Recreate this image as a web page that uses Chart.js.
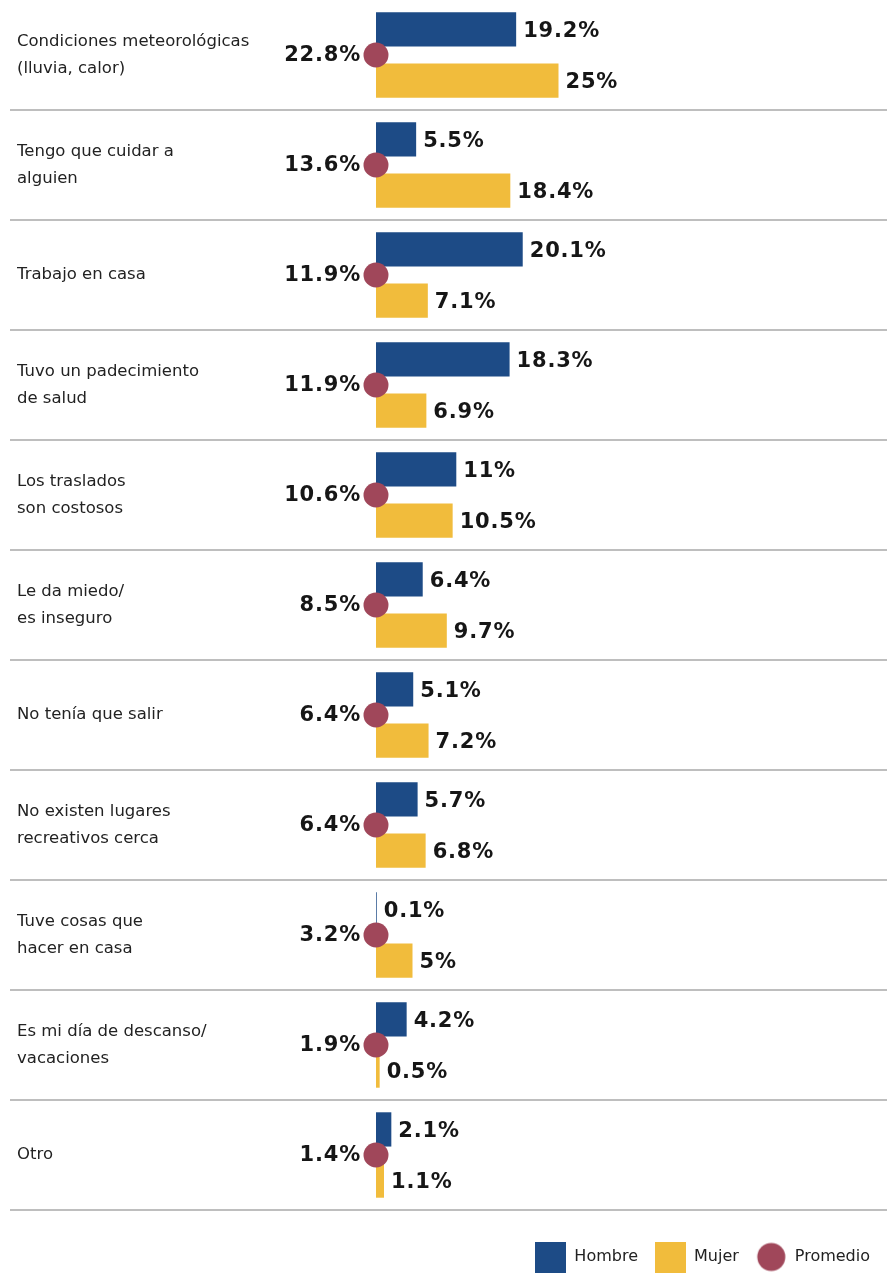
<!DOCTYPE html>
<html lang="es">
<head>
<meta charset="utf-8">
<title>Motivos para no salir</title>
<script src="https://cdn.jsdelivr.net/npm/chart.js@4.4.1/dist/chart.umd.min.js"></script>
<style>
  html, body { margin: 0; padding: 0; background: #fff; }
  #wrap { width: 887px; height: 1275px; }
</style>
</head>
<body>
<div id="wrap"><canvas id="motivosChart"></canvas></div>
<script>
const categorias = [
  ["Condiciones meteorológicas", "(lluvia, calor)"],
  ["Tengo que cuidar a", "alguien"],
  "Trabajo en casa",
  ["Tuvo un padecimiento", "de salud"],
  ["Los traslados", "son costosos"],
  ["Le da miedo/", "es inseguro"],
  "No tenía que salir",
  ["No existen lugares", "recreativos cerca"],
  ["Tuve cosas que", "hacer en casa"],
  ["Es mi día de descanso/", "vacaciones"],
  "Otro"
];
const hombre = [19.2, 5.5, 20.1, 18.3, 11, 6.4, 5.1, 5.7, 0.1, 4.2, 2.1];
const mujer = [25, 18.4, 7.1, 6.9, 10.5, 9.7, 7.2, 6.8, 5, 0.5, 1.1];
const promedio = [22.8, 13.6, 11.9, 11.9, 10.6, 8.5, 6.4, 6.4, 3.2, 1.9, 1.4];

const AZUL = "#1d4b86";
const AMARILLO = "#f1bc3c";
const GUINDA = "#a0475a";

// iconos de la leyenda (cuadros y círculo)
function icono(color, circulo) {
  const c = document.createElement("canvas");
  c.width = 31;
  c.height = 31;
  const g = c.getContext("2d");
  g.fillStyle = color;
  if (circulo) {
    g.beginPath();
    g.arc(15.5, 15.5, 14, 0, Math.PI * 2);
    g.fill();
  } else {
    g.fillRect(0, 0, 31, 31);
  }
  return c;
}
const iconos = [icono(AZUL), icono(AMARILLO), icono(GUINDA, true)];

// líneas separadoras entre categorías
const separadores = {
  id: "separadores",
  beforeDatasetsDraw(chart) {
    const { ctx, chartArea } = chart;
    const y = chart.scales.y;
    const n = chart.data.labels.length;
    ctx.save();
    ctx.strokeStyle = "#a9a9a9";
    ctx.lineWidth = 1.5;
    for (let i = 1; i <= n; i++) {
      const py = i < n
        ? (y.getPixelForTick(i - 1) + y.getPixelForTick(i)) / 2
        : chartArea.bottom;
      ctx.beginPath();
      ctx.moveTo(10, py);
      ctx.lineTo(chart.width, py);
      ctx.stroke();
    }
    ctx.restore();
  }
};

// etiquetas con el porcentaje
const etiquetas = {
  id: "etiquetas",
  afterDatasetsDraw(chart) {
    const { ctx } = chart;
    ctx.save();
    ctx.font = "bold 21px 'DejaVu Sans'";
    ctx.letterSpacing = "0.8px";
    ctx.fillStyle = "#161616";
    ctx.textBaseline = "middle";
    chart.data.datasets.forEach((ds, di) => {
      const meta = chart.getDatasetMeta(di);
      meta.data.forEach((el, i) => {
        if (ds.type === "line") {
          ctx.textAlign = "right";
          ctx.fillText(promedio[i] + "%", el.x - 15, el.y + 1);
        } else {
          ctx.textAlign = "left";
          ctx.fillText(ds.data[i] + "%", el.x + 7, el.y + 2);
        }
      });
    });
    ctx.restore();
  }
};

new Chart(document.getElementById("motivosChart"), {
  type: "bar",
  data: {
    labels: categorias,
    datasets: [
      {
        label: "Hombre",
        data: hombre,
        backgroundColor: AZUL,
        order: 1
      },
      {
        label: "Mujer",
        data: mujer,
        backgroundColor: AMARILLO,
        order: 1
      },
      {
        type: "line",
        label: "Promedio",
        indexAxis: "y",
        data: categorias.map(() => 0),
        showLine: false,
        clip: false,
        pointRadius: 12.5,
        pointHoverRadius: 12.5,
        pointBackgroundColor: GUINDA,
        pointBorderWidth: 0,
        order: 0
      }
    ]
  },
  options: {
    indexAxis: "y",
    responsive: true,
    maintainAspectRatio: false,
    animation: false,
    layout: { autoPadding: false, padding: { left: 17, right: 0, top: 0, bottom: 0 } },
    datasets: {
      bar: { categoryPercentage: 0.93, barPercentage: 0.67 }
    },
    scales: {
      x: {
        min: 0,
        max: 70,
        grid: { display: false },
        border: { display: false },
        ticks: { display: false },
        afterFit: (s) => { s.height = 22; }
      },
      y: {
        grid: { display: false },
        border: { display: false },
        ticks: {
          crossAlign: "far",
          color: "#222",
          font: { family: "DejaVu Sans", size: 16.5, lineHeight: 1.65 }
        },
        afterFit: (s) => {
          s.width = 359;
          s.paddingTop = 0;
          s.paddingBottom = 0;
        }
      }
    },
    plugins: {
      tooltip: { enabled: false },
      legend: {
        position: "bottom",
        align: "end",
        labels: {
          usePointStyle: true,
          pointStyleWidth: 31,
          padding: 17,
          color: "#222",
          font: { family: "DejaVu Sans", size: 16 },
          sort: (a, b) => a.datasetIndex - b.datasetIndex,
          generateLabels(chart) {
            const items = Chart.defaults.plugins.legend.labels.generateLabels(chart);
            items.forEach((it) => { it.pointStyle = iconos[it.datasetIndex]; });
            return items;
          }
        }
      }
    }
  },
  plugins: [separadores, etiquetas]
});
</script>
</body>
</html>
